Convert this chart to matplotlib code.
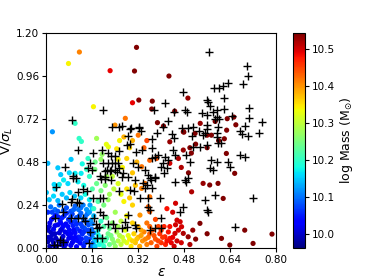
import matplotlib
matplotlib.use("Agg")
import matplotlib.pyplot as plt
import numpy as np

# colored galaxies: (epsilon, V/sigma, log mass)
col_pts = [
(0.077,1.03,10.34),(0.115,1.094,10.41),(0.222,0.99,10.49),(0.164,0.789,10.34),(0.314,1.12,10.55),
(0.307,0.988,10.55),(0.322,0.826,10.54),(0.30,0.811,10.49),(0.427,0.96,10.55),(0.369,0.82,10.55),
(0.493,0.837,10.53),(0.367,0.776,10.55),(0.447,0.764,10.55),(0.63,0.722,10.55),(0.653,0.731,10.55),
(0.387,0.70,10.55),(0.408,0.681,10.55),(0.536,0.696,10.53),(0.588,0.707,10.55),(0.66,0.688,10.55),
(0.628,0.658,10.55),(0.479,0.647,10.55),(0.518,0.64,10.55),(0.56,0.63,10.53),(0.575,0.63,10.55),
(0.100,0.696,10.2),(0.021,0.649,10.12),(0.275,0.724,10.42),(0.239,0.686,10.4),(0.114,0.612,10.2),
(0.175,0.612,10.28),(0.122,0.595,10.2),(0.209,0.579,10.33),(0.216,0.565,10.33),(0.245,0.554,10.35),
(0.194,0.523,10.27),(0.19,0.495,10.27),(0.25,0.495,10.34),(0.086,0.495,10.15),(0.005,0.473,10.14),
(0.04,0.448,10.15),(0.169,0.439,10.25),(0.10,0.417,10.17),(0.121,0.417,10.17),
(0.012,0.01,9.99),(0.025,0.03,10.0),(0.035,0.008,10.0),(0.05,0.02,10.0),(0.062,0.005,10.01),
(0.07,0.035,10.01),(0.085,0.015,10.02),(0.095,0.04,10.03),(0.105,0.008,10.03),(0.118,0.028,10.04),
(0.13,0.012,10.05),(0.142,0.036,10.06),(0.155,0.006,10.08),(0.163,0.03,10.1),
(0.008,0.06,10.0),(0.02,0.075,10.0),(0.033,0.055,10.0),(0.045,0.085,10.01),(0.058,0.065,10.01),
(0.075,0.08,10.02),(0.088,0.058,10.03),(0.1,0.085,10.04),(0.112,0.062,10.05),(0.125,0.078,10.06),
(0.138,0.056,10.07),(0.15,0.082,10.08),(0.16,0.06,10.1),(0.015,0.09,10.0),
(0.01,0.12,10.01),(0.025,0.105,10.02),(0.04,0.13,10.02),(0.055,0.11,10.03),(0.068,0.135,10.03),
(0.08,0.1,10.04),(0.093,0.125,10.05),(0.107,0.108,10.06),(0.12,0.135,10.07),(0.133,0.11,10.08),
(0.147,0.13,10.08),(0.158,0.105,10.1),
(0.018,0.16,10.04),(0.032,0.185,10.05),(0.048,0.155,10.05),(0.062,0.18,10.06),(0.077,0.16,10.06),
(0.09,0.19,10.07),(0.1,0.15,10.07),(0.115,0.18,10.08),(0.13,0.16,10.09),(0.142,0.19,10.1),
(0.155,0.155,10.12),(0.005,0.2,10.06),
(0.015,0.23,10.1),(0.03,0.215,10.1),(0.045,0.24,10.1),(0.07,0.225,10.08),(0.085,0.205,10.08),
(0.1,0.235,10.09),(0.112,0.215,10.1),(0.128,0.24,10.11),(0.14,0.215,10.12),(0.152,0.24,10.13),
(0.005,0.035,9.99),(0.018,0.048,10.0),(0.028,0.012,10.0),(0.042,0.04,10.0),(0.055,0.045,10.0),
(0.067,0.02,10.01),(0.078,0.055,10.02),(0.09,0.03,10.02),(0.1,0.06,10.03),(0.11,0.04,10.04),
(0.122,0.05,10.05),(0.135,0.03,10.06),(0.148,0.05,10.07),(0.16,0.015,10.1),
(0.005,0.1,10.0),(0.03,0.08,10.0),(0.05,0.1,10.01),(0.065,0.09,10.02),(0.085,0.08,10.03),
(0.095,0.1,10.04),(0.117,0.095,10.05),(0.13,0.09,10.06),(0.145,0.1,10.07),(0.165,0.085,10.1),
(0.012,0.14,10.02),(0.03,0.125,10.02),(0.05,0.14,10.03),(0.06,0.125,10.03),(0.075,0.12,10.04),
(0.085,0.145,10.05),(0.105,0.135,10.06),(0.125,0.12,10.07),(0.14,0.145,10.08),(0.16,0.135,10.11),
(0.025,0.17,10.04),(0.04,0.175,10.05),(0.055,0.17,10.05),(0.07,0.195,10.06),(0.085,0.175,10.07),
(0.105,0.17,10.08),(0.12,0.195,10.09),(0.135,0.175,10.1),(0.15,0.2,10.12),(0.165,0.18,10.14),
(0.02,0.2,10.07),(0.04,0.205,10.08),(0.06,0.21,10.08),(0.095,0.215,10.09),(0.12,0.225,10.1),
(0.16,0.22,10.15),
(0.01,0.27,10.15),(0.025,0.29,10.16),(0.04,0.265,10.14),(0.055,0.3,10.15),(0.07,0.28,10.14),
(0.082,0.31,10.16),(0.098,0.29,10.15),(0.12,0.28,10.16),(0.135,0.3,10.18),(0.15,0.27,10.17),
(0.0,0.31,10.15),(0.03,0.33,10.16),
(0.027,0.355,10.16),(0.045,0.355,10.17),(0.06,0.38,10.17),(0.075,0.36,10.16),(0.11,0.37,10.17),
(0.13,0.35,10.18),(0.05,0.41,10.15),(0.08,0.42,10.16),
(0.16,0.33,10.22),(0.175,0.36,10.24),(0.19,0.32,10.25),(0.205,0.35,10.26),(0.22,0.3,10.28),
(0.18,0.26,10.22),(0.2,0.24,10.25),(0.215,0.27,10.27),(0.165,0.22,10.2),(0.235,0.33,10.3),
(0.25,0.36,10.32),(0.23,0.4,10.3),(0.26,0.3,10.33),(0.27,0.26,10.34),(0.28,0.33,10.35),
(0.29,0.28,10.37),(0.3,0.24,10.36),(0.31,0.35,10.37),(0.265,0.45,10.34),(0.28,0.5,10.36),
(0.3,0.42,10.37),(0.315,0.48,10.38),(0.29,0.56,10.36),(0.3,0.6,10.38),(0.255,0.6,10.34),
(0.27,0.62,10.38),(0.15,0.4,10.2),(0.14,0.44,10.2),(0.125,0.47,10.18),(0.145,0.5,10.2),
(0.17,0.48,10.24),(0.21,0.4,10.28),
(0.332,0.454,10.42),(0.36,0.49,10.43),(0.384,0.5,10.44),(0.343,0.361,10.42),(0.332,0.333,10.41),
(0.36,0.286,10.42),(0.355,0.23,10.43),(0.36,0.203,10.43),(0.326,0.184,10.4),(0.34,0.56,10.43),
(0.35,0.6,10.45),(0.32,0.63,10.42),
(0.477,0.649,10.55),(0.43,0.593,10.53),(0.477,0.547,10.53),(0.5,0.56,10.54),(0.52,0.58,10.55),
(0.505,0.53,10.54),(0.43,0.473,10.5),(0.46,0.5,10.52),(0.47,0.45,10.52),(0.495,0.42,10.55),
(0.627,0.528,10.55),(0.656,0.417,10.55),(0.598,0.361,10.55),(0.546,0.361,10.53),(0.569,0.352,10.55),
(0.506,0.314,10.52),(0.616,0.277,10.55),(0.535,0.138,10.55),(0.61,0.054,10.55),(0.639,0.017,10.55),
(0.691,0.1,10.55),(0.72,0.026,10.55),(0.786,0.078,10.55),(0.56,0.56,10.55),(0.6,0.6,10.55),
(0.62,0.61,10.55),
(0.455,0.156,10.5),(0.466,0.147,10.5),(0.471,0.119,10.5),(0.46,0.1,10.5),(0.448,0.082,10.5),
(0.477,0.082,10.52),(0.494,0.063,10.53),(0.43,0.054,10.48),(0.413,0.063,10.47),(0.44,0.2,10.5),
(0.45,0.25,10.5),(0.42,0.22,10.48),(0.51,0.1,10.53),(0.52,0.05,10.54),(0.56,0.08,10.55),
(0.5,0.02,10.52),(0.47,0.03,10.5),
(0.17,0.01,10.15),(0.175,0.04,10.17),(0.185,0.02,10.18),(0.19,0.06,10.2),(0.2,0.01,10.2),
(0.205,0.04,10.22),(0.215,0.08,10.24),(0.22,0.02,10.24),(0.23,0.05,10.26),(0.24,0.01,10.27),
(0.245,0.09,10.28),(0.25,0.04,10.29),(0.26,0.02,10.3),(0.265,0.06,10.31),(0.275,0.1,10.32),
(0.28,0.03,10.33),(0.29,0.05,10.34),(0.295,0.01,10.35),(0.305,0.08,10.36),(0.31,0.03,10.37),
(0.32,0.06,10.38),(0.325,0.01,10.39),(0.335,0.04,10.4),(0.34,0.09,10.41),(0.35,0.02,10.41),
(0.355,0.06,10.42),(0.365,0.03,10.43),(0.37,0.1,10.44),(0.38,0.05,10.44),(0.385,0.01,10.45),
(0.395,0.08,10.46),(0.4,0.03,10.46),(0.41,0.12,10.47),(0.415,0.02,10.47),(0.425,0.09,10.48),
(0.435,0.03,10.49),(0.445,0.01,10.5),(0.2,0.12,10.22),(0.23,0.14,10.26),(0.26,0.15,10.3),
(0.24,0.2,10.28),(0.28,0.18,10.34),(0.3,0.14,10.36),(0.32,0.12,10.38),(0.35,0.14,10.42),
(0.38,0.16,10.45),(0.39,0.12,10.45),
(0.168,0.05,10.15),(0.18,0.075,10.18),(0.195,0.035,10.2),(0.21,0.055,10.22),(0.225,0.07,10.25),
(0.235,0.03,10.26),(0.255,0.07,10.29),(0.27,0.04,10.31),(0.285,0.07,10.33),(0.3,0.04,10.36),
(0.315,0.05,10.37),(0.33,0.07,10.39),(0.345,0.05,10.41),(0.36,0.08,10.43),(0.375,0.07,10.44),
(0.39,0.04,10.45),(0.405,0.06,10.46),(0.42,0.04,10.48),(0.44,0.06,10.49),(0.455,0.04,10.5),
(0.18,0.1,10.18),(0.22,0.11,10.24),(0.25,0.12,10.28),(0.33,0.1,10.39),(0.36,0.12,10.43),
(0.4,0.1,10.46),(0.43,0.12,10.48),(0.45,0.13,10.5),(0.19,0.15,10.2),(0.21,0.17,10.24),
]
col_eps = [p[0] for p in col_pts]
col_vs = [p[1] for p in col_pts]
col_mass = [p[2] for p in col_pts]

# plus markers: (epsilon, V/sigma)
plus_pts = [
(0.567,1.092),(0.699,1.017),(0.704,0.962),(0.633,0.919),(0.685,0.915),(0.614,0.906),(0.602,0.893),
(0.584,0.893),(0.475,0.872),(0.618,0.837),(0.561,0.824),(0.564,0.813),(0.412,0.809),(0.569,0.794),
(0.375,0.768),(0.444,0.759),(0.483,0.77),(0.49,0.757),(0.619,0.777),(0.595,0.768),(0.58,0.757),
(0.542,0.753),(0.558,0.742),(0.706,0.783),(0.706,0.727),(0.647,0.738),(0.60,0.718),(0.589,0.718),
(0.596,0.731),(0.424,0.709),(0.408,0.673),(0.56,0.688),(0.558,0.666),(0.691,0.681),(0.75,0.701),
(0.741,0.64),(0.597,0.673),(0.291,0.666),(0.324,0.675),(0.329,0.653),(0.385,0.64),(0.437,0.634),
(0.443,0.616),(0.474,0.668),(0.495,0.668),(0.511,0.677),(0.532,0.653),(0.507,0.626),(0.544,0.632),
(0.553,0.64),(0.595,0.621),(0.595,0.64),(0.674,0.653),(0.68,0.634),(0.703,0.625),(0.367,0.608),
(0.196,0.772),(0.09,0.716),(0.227,0.677),(0.254,0.673),(0.264,0.68),(0.294,0.668),(0.322,0.668),
(0.285,0.623),
(0.109,0.549),(0.164,0.532),(0.216,0.532),(0.254,0.543),(0.195,0.547),(0.225,0.513),(0.239,0.513),
(0.198,0.473),(0.216,0.473),(0.227,0.473),(0.239,0.473),(0.21,0.435),(0.225,0.435),(0.205,0.43),
(0.22,0.43),(0.24,0.437),(0.065,0.45),(0.151,0.473),(0.146,0.448),(0.158,0.435),(0.093,0.402),
(0.104,0.391),(0.187,0.40),(0.204,0.398),(0.19,0.383),(0.205,0.383),
(0.034,0.339),(0.094,0.389),(0.127,0.327),(0.14,0.32),(0.111,0.314),(0.161,0.281),(0.187,0.281),
(0.198,0.281),(0.224,0.379),(0.088,0.272),(0.085,0.258),(0.106,0.258),(0.115,0.249),(0.054,0.244),
(0.059,0.203),(0.03,0.169),(0.085,0.169),(0.111,0.166),(0.127,0.169),(0.133,0.151),(0.166,0.169),
(0.198,0.184),(0.173,0.132),(0.175,0.113),(0.184,0.119),(0.152,0.091),(0.175,0.054),(0.193,0.054),
(0.15,0.026),(0.048,0.045),(0.059,0.035),(0.036,0.017),(0.027,0.017),(0.216,0.132),(0.233,0.132),
(0.239,0.11),(0.187,0.203),
(0.291,0.579),(0.28,0.575),(0.312,0.537),(0.332,0.547),(0.367,0.556),(0.39,0.519),(0.378,0.51),
(0.367,0.5),(0.413,0.51),(0.424,0.491),(0.407,0.473),(0.401,0.454),(0.419,0.445),(0.41,0.417),
(0.442,0.547),(0.448,0.519),(0.488,0.519),(0.5,0.482),(0.248,0.473),(0.253,0.445),(0.245,0.426),
(0.268,0.417),(0.285,0.398),(0.262,0.395),(0.32,0.454),(0.343,0.435),(0.355,0.407),(0.378,0.395),
(0.36,0.389),(0.309,0.379),(0.303,0.473),
(0.337,0.361),(0.349,0.352),(0.343,0.333),(0.367,0.333),(0.364,0.379),(0.378,0.389),(0.448,0.367),
(0.253,0.318),(0.291,0.324),(0.304,0.318),(0.326,0.277),(0.355,0.277),(0.395,0.277),(0.355,0.23),
(0.36,0.212),(0.477,0.23),(0.285,0.184),(0.274,0.147),(0.262,0.11),(0.28,0.119),(0.309,0.128),
(0.312,0.11),(0.36,0.1),(0.378,0.11),(0.488,0.37),
(0.558,0.575),(0.598,0.584),(0.61,0.584),(0.535,0.565),(0.511,0.565),(0.674,0.519),(0.691,0.51),
(0.633,0.482),(0.639,0.454),(0.575,0.491),(0.593,0.482),(0.569,0.445),(0.58,0.435),(0.494,0.389),
(0.483,0.379),(0.552,0.268),(0.558,0.212),(0.564,0.203),(0.587,0.296),(0.72,0.277),(0.465,0.203),
(0.656,0.119),(0.401,0.166),(0.401,0.11),
]
plus_eps = [p[0] for p in plus_pts]
plus_vs = [p[1] for p in plus_pts]

x_ticks = [0.00, 0.16, 0.32, 0.48, 0.64, 0.80]
y_ticks = [0.00, 0.24, 0.48, 0.72, 0.96, 1.20]
cb_ticks = [10.0, 10.1, 10.2, 10.3, 10.4, 10.5]

fig = plt.figure(figsize=(3.74, 2.80), dpi=100)
ax = fig.add_axes([0.124, 0.114, 0.614, 0.768])
cax = fig.add_axes([0.783, 0.114, 0.033, 0.768])

sc = ax.scatter(col_eps, col_vs, c=col_mass, cmap='jet', vmin=9.963, vmax=10.543,
                s=14, edgecolors='none', zorder=2)
ax.scatter(plus_eps, plus_vs, marker='+', color='black', s=28, linewidths=1.0, zorder=3)

ax.set_xlim(0, 0.8)
ax.set_ylim(0, 1.2)
ax.set_xticks(x_ticks)
ax.set_xticklabels([f"{t:.2f}" for t in x_ticks])
ax.set_yticks(y_ticks)
ax.set_yticklabels([f"{t:.2f}" for t in y_ticks])
ax.tick_params(labelsize=7.5, length=3, pad=2)
ax.set_xlabel(r"$\varepsilon$", fontsize=10, labelpad=0)
ax.set_ylabel(r"V/$\sigma_L$", fontsize=9.5, labelpad=1)

cb = fig.colorbar(sc, cax=cax, ticks=cb_ticks)
cb.ax.tick_params(labelsize=7.5, length=3, pad=2)
cb.set_label(r"log Mass (M$_{\odot}$)", fontsize=9, labelpad=2)

fig.savefig("out.png", dpi=100)
